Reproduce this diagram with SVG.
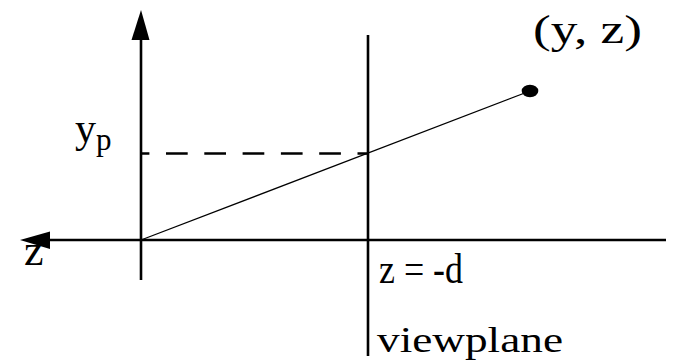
<svg xmlns="http://www.w3.org/2000/svg" width="676" height="363" viewBox="0 0 676 363">
<style>
.t{font-family:"Liberation Serif","Times New Roman",serif;fill:#000}
.ax{stroke:#000;stroke-width:2.6;fill:none}
.thin{stroke:#000;stroke-width:1.3;fill:none}
</style>
<rect width="676" height="363" fill="#fff"/>
<g id="connectors">
  <line class="ax" x1="141" y1="38" x2="141" y2="280"/>
  <polygon points="141,10 131.5,40 149.5,40" fill="#000"/>
  <line class="ax" x1="48" y1="240" x2="666" y2="240"/>
  <polygon points="20,240 50,231.5 50,249" fill="#000"/>
  <line class="ax" x1="368" y1="35" x2="368" y2="356"/>
  <line class="ax" x1="141" y1="153.5" x2="368" y2="153.5" stroke-dasharray="21.7 16.6" stroke-dashoffset="13.3"/>
  <line class="thin" x1="141" y1="240" x2="530" y2="91"/>
</g>
<g id="point">
  <ellipse cx="530" cy="91" rx="8.3" ry="6.2" fill="#000"/>
  <text class="t" x="533" y="43" font-size="40" textLength="109" lengthAdjust="spacingAndGlyphs">(y, z)</text>
</g>
<g id="label-z-axis">
  <text class="t" x="24" y="265" font-size="44">z</text>
</g>
<g id="label-yp">
  <text class="t" x="75" y="142" font-size="42">y<tspan font-size="31" dy="8">p</tspan></text>
</g>
<g id="label-zd">
  <text class="t" x="379" y="283" font-size="42" textLength="84" lengthAdjust="spacingAndGlyphs">z = -d</text>
</g>
<g id="label-viewplane">
  <text class="t" x="377" y="352" font-size="36" textLength="186" lengthAdjust="spacingAndGlyphs">viewplane</text>
</g>
</svg>
